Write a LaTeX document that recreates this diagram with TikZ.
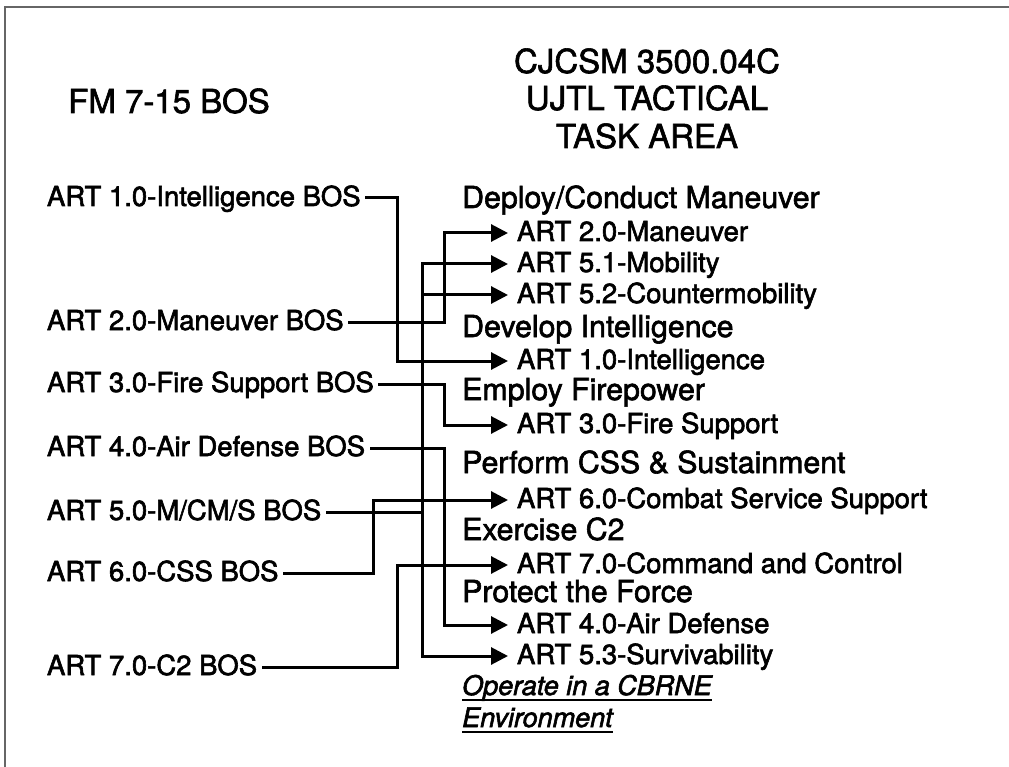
\documentclass[tikz,border=0pt]{standalone}
\usepackage{fontspec}
\setmainfont{TeX Gyre Heros}
\newcommand\heavytext{\special{pdf:literal direct 2 Tr 0.6 w}}
\usetikzlibrary{arrows.meta,calc}
\begin{document}
\begin{tikzpicture}[x=1pt,y=-1pt,
  txt/.style={inner sep=0pt,anchor=base west,font=\heavytext\fontsize{27.5}{32}\selectfont},
  hdr/.style={inner sep=0pt,anchor=base west,font=\heavytext\fontsize{30.3}{34}\selectfont},
  ital/.style={inner sep=0pt,anchor=base west,font=\heavytext\fontsize{27}{32}\selectfont\itshape},
  lft/.style={txt,outer xsep=6pt,text height=19pt,text depth=3pt},
  itm/.style={txt,outer xsep=9pt,text height=19pt,text depth=3pt},
  ttl/.style={inner sep=0pt,anchor=base,font=\heavytext\fontsize{33}{38}\selectfont},
  wire/.style={line width=3pt,line cap=rect},
  arr/.style={wire,-{Triangle[length=17pt,width=17pt]}},
  frameline/.style={line width=1.5pt,draw=black!60}]
\useasboundingbox (0,0) rectangle (1009,767);
\draw[frameline] (1009,7) -- (5,7) -- (5,767);
% titles
\node[ttl] (fm) at (169,113) {FM 7-15 BOS};
\node[ttl] (t1) at (647,73) {CJCSM 3500.04C};
\node[ttl] (t2) at (647,110) {UJTL TACTICAL};
\node[ttl] (t3) at (647,148) {TASK AREA};
% left column
\node[lft] (lint) at (41,206) {ART 1.0-Intelligence BOS};
\node[lft] (lman) at (41,330) {ART 2.0-Maneuver BOS};
\node[lft] (lfs)  at (41,392) {ART 3.0-Fire Support BOS};
\node[lft] (lad)  at (41,456) {ART 4.0-Air Defense BOS};
\node[lft] (lmcm) at (41,520) {ART 5.0-M/CM/S BOS};
\node[lft] (lcss) at (41,581) {ART 6.0-CSS BOS};
\node[lft] (lc2)  at (41,675) {ART 7.0-C2 BOS};
% right column headers
\node[hdr] (hdep) at (462,208) {Deploy/Conduct Maneuver};
\node[hdr] (hdev) at (462,337) {Develop Intelligence};
\node[hdr] (hemp) at (462,400) {Employ Firepower};
\node[hdr] (hcss) at (462,473) {Perform CSS \& Sustainment};
\node[hdr] (hexe) at (462,540) {Exercise C2};
\node[hdr] (hpro) at (462,602) {Protect the Force};
\node[ital] (hop1) at (462,695) {Operate in a CBRNE};
\node[ital] (hop2) at (462,727) {Environment};
\draw[line width=1.8pt] ($(hop1.base west)+(0,5)$) -- ($(hop1.base east)+(0,5)$);
\draw[line width=1.8pt] ($(hop2.base west)+(0,5)$) -- ($(hop2.base east)+(0,5)$);
% right column items
\node[itm] (r20)  at (508,241) {ART 2.0-Maneuver};
\node[itm] (r51)  at (508,272) {ART 5.1-Mobility};
\node[itm] (r52)  at (508,303) {ART 5.2-Countermobility};
\node[itm] (rint) at (508,369) {ART 1.0-Intelligence};
\node[itm] (r30)  at (508,433) {ART 3.0-Fire Support};
\node[itm] (r60)  at (508,508) {ART 6.0-Combat Service Support};
\node[itm] (r70)  at (508,573) {ART 7.0-Command and Control};
\node[itm] (r40)  at (508,633) {ART 4.0-Air Defense};
\node[itm] (r53)  at (508,664) {ART 5.3-Survivability};
% routing columns
\coordinate (xa) at (397,0);
\coordinate (xb) at (444,0);
\coordinate (xc) at (422,0);
\coordinate (xd) at (373,0);
% connectors
\draw[arr] (lint.east) -| (xa |- rint.west) -- (rint.west);
\draw[arr] (lman.east) -| (xb |- r20.west) -- (r20.west);
\draw[wire] (lmcm.east) -- (xc |- lmcm.east);
\draw[arr] (xc |- r53.west) -- (xc |- r51.west) -- (r51.west);
\draw[arr] (xc |- r52.west) -- (r52.west);
\draw[arr] (xc |- r53.west) -- (r53.west);
\draw[arr] (lfs.east) -| (xb |- r30.west) -- (r30.west);
\draw[arr] (lad.east) -| (xb |- r40.west) -- (r40.west);
\draw[arr] (lcss.east) -| (xd |- r60.west) -- (r60.west);
\draw[arr] (lc2.east) -| (xa |- r70.west) -- (r70.west);
\end{tikzpicture}
\end{document}
